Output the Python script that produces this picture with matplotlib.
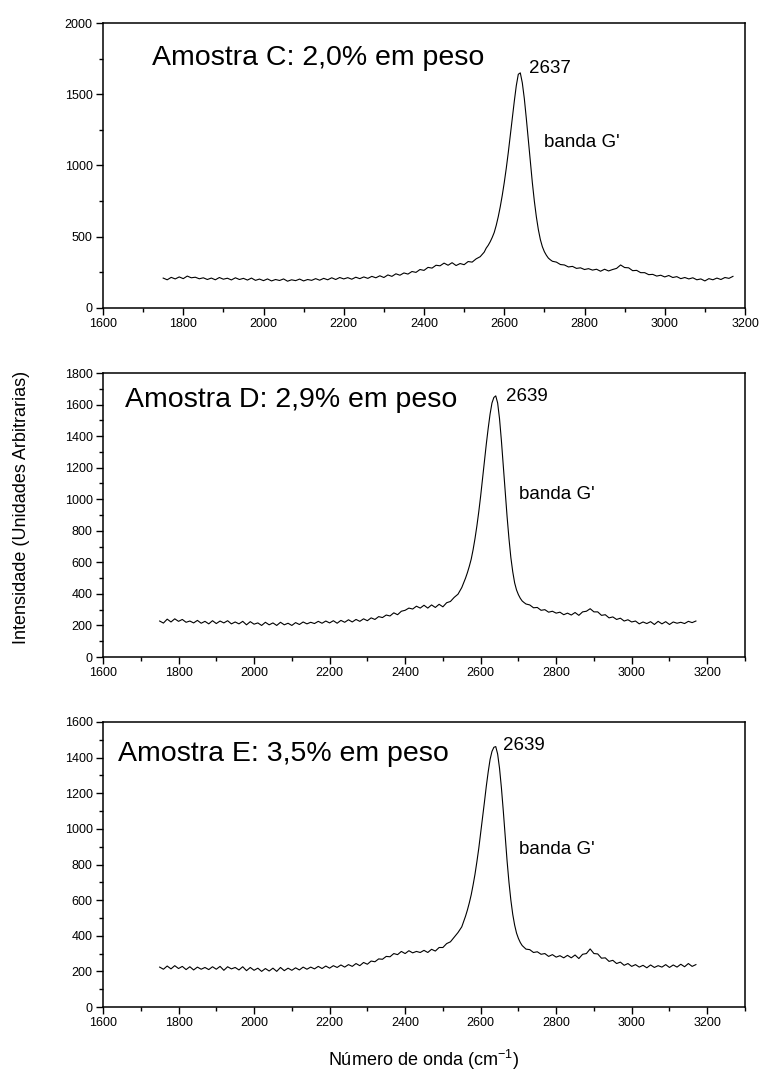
import numpy as np
import matplotlib
matplotlib.use("Agg")
import matplotlib.pyplot as plt
from matplotlib.ticker import MultipleLocator

plt.rcParams['font.family'] = ['Liberation Sans', 'DejaVu Sans']

# wavenumber sampling grid (cm^-1)
wn_left = np.arange(1750, 2551, 10)
wn_peak = np.arange(2555, 2721, 5)
wn_right = np.arange(2730, 3171, 10)
wavenumber = np.concatenate([wn_left, wn_peak, wn_right])

# Amostra C
int_C = [
    210, 198, 215, 204, 218, 206, 224, 212, 216, 205,
    212, 200, 210, 198, 214, 202, 209, 197, 212, 200,
    208, 196, 210, 194, 203, 192, 204, 190, 200, 193,
    204, 188, 198, 192, 203, 190, 200, 194, 206, 195,
    208, 198, 212, 200, 214, 204, 213, 202, 216, 206,
    218, 208, 222, 212, 226, 214, 232, 222, 240, 230,
    246, 238, 256, 250, 270, 264, 285, 280, 300, 296,
    315, 300, 318, 298, 312, 304, 326, 322, 345, 360,
    392,
    420, 440, 465, 495, 530, 580, 640, 710, 790, 880,
    980, 1090, 1210, 1330, 1450, 1560, 1640, 1650, 1580, 1470,
    1330, 1180, 1030, 880, 750, 640, 550, 480, 430, 395,
    370, 350, 338, 328,
    322, 305, 302, 288, 292, 278, 282, 270, 276, 266,
    272, 258, 272, 260, 270, 278, 302, 284, 282, 262,
    264, 248, 248, 234, 236, 224, 230, 218, 228, 214,
    220, 206, 214, 204, 212, 198, 204, 190, 206, 198,
    210, 200, 214, 208, 222,
]

# Amostra D
int_D = [
    228, 215, 240, 222, 242, 226, 238, 220, 228, 216,
    232, 214, 226, 210, 230, 212, 228, 216, 230, 210,
    222, 210, 226, 204, 224, 208, 216, 200, 220, 204,
    216, 200, 220, 204, 214, 200, 218, 206, 222, 210,
    220, 212, 226, 214, 228, 216, 230, 214, 232, 220,
    236, 222, 238, 226, 242, 230, 248, 238, 256, 250,
    266, 260, 280, 268, 290, 296, 310, 304, 322, 310,
    328, 310, 330, 314, 334, 318, 344, 352, 378, 398,
    440,
    470, 500, 535, 575, 620, 680, 750, 830, 920, 1020,
    1130, 1240, 1350, 1450, 1540, 1610, 1645, 1655, 1610, 1510,
    1370, 1210, 1050, 890, 750, 630, 540, 470, 425, 395,
    372, 355, 345, 336,
    330, 312, 314, 296, 300, 284, 290, 278, 284, 268,
    278, 266, 282, 264, 286, 290, 306, 286, 286, 264,
    268, 248, 254, 238, 246, 228, 236, 222, 228, 210,
    222, 212, 224, 206, 226, 210, 224, 206, 222, 214,
    220, 212, 226, 218, 228,
]

# Amostra E
int_E = [
    224, 212, 230, 214, 232, 216, 228, 210, 226, 208,
    224, 212, 222, 210, 226, 212, 228, 206, 226, 214,
    222, 208, 226, 204, 222, 206, 218, 200, 216, 202,
    218, 200, 222, 204, 218, 206, 220, 208, 224, 212,
    224, 214, 228, 216, 230, 218, 232, 222, 236, 224,
    238, 228, 244, 232, 250, 240, 258, 254, 270, 268,
    284, 282, 300, 294, 312, 300, 316, 304, 312, 306,
    318, 306, 324, 314, 334, 334, 356, 366, 392, 418,
    450,
    480, 510, 545, 585, 630, 685, 745, 815, 890, 975,
    1060, 1150, 1240, 1320, 1390, 1435, 1458, 1462, 1420, 1340,
    1230, 1100, 960, 820, 700, 600, 520, 460, 415, 385,
    362, 345, 335, 325,
    322, 306, 310, 296, 300, 284, 294, 280, 288, 276,
    290, 276, 292, 272, 296, 300, 326, 300, 298, 274,
    276, 256, 262, 244, 252, 234, 244, 228, 238, 224,
    234, 220, 236, 222, 232, 224, 238, 222, 236, 224,
    240, 226, 244, 228, 238,
]

titles = ["Amostra C: 2,0% em peso", "Amostra D: 2,9% em peso", "Amostra E: 3,5% em peso"]
peak_labels = ["2637", "2639", "2639"]
band_label = "banda G'"

W, H = 763, 1077
fig = plt.figure(figsize=(W / 100, H / 100), dpi=100)

left = 103 / W
width = 642 / W
panels = [
    dict(top=23, bottom=308, ymax=2000, ymaj=500, ymin=250, xmax=3200,
         data=int_C, title_xy=(1722, 1705), peak_xy=(2662, 1650), band_xy=(2700, 1130)),
    dict(top=373, bottom=657, ymax=1800, ymaj=200, ymin=100, xmax=3300,
         data=int_D, title_xy=(1658, 1585), peak_xy=(2667, 1620), band_xy=(2702, 1000)),
    dict(top=722, bottom=1007, ymax=1600, ymaj=200, ymin=100, xmax=3300,
         data=int_E, title_xy=(1640, 1380), peak_xy=(2659, 1440), band_xy=(2702, 860)),
]

for i, p in enumerate(panels):
    ax = fig.add_axes([left, 1 - p['bottom'] / H, width, (p['bottom'] - p['top']) / H])
    ax.plot(wavenumber, p['data'], color='black', lw=0.8)
    ax.set_xlim(1600, p['xmax'])
    ax.set_ylim(0, p['ymax'])
    ax.xaxis.set_major_locator(MultipleLocator(200))
    ax.xaxis.set_minor_locator(MultipleLocator(100))
    ax.yaxis.set_major_locator(MultipleLocator(p['ymaj']))
    ax.yaxis.set_minor_locator(MultipleLocator(p['ymin']))
    ax.tick_params(which='major', direction='out', length=5, width=1.0, labelsize=9, pad=2.5)
    ax.tick_params(which='minor', direction='out', length=3, width=1.0)
    for s in ax.spines.values():
        s.set_linewidth(1.1)
    ax.text(p['title_xy'][0], p['title_xy'][1], titles[i], fontsize=20.5, va='baseline', ha='left')
    ax.text(p['peak_xy'][0], p['peak_xy'][1], peak_labels[i], fontsize=13.5, va='baseline', ha='left')
    ax.text(p['band_xy'][0], p['band_xy'][1], band_label, fontsize=13.5, va='baseline', ha='left')

fig.text(22 / W, 1 - 507 / H, "Intensidade (Unidades Arbitrarias)", rotation=90,
         fontsize=13, ha='center', va='center')
fig.text(424 / W, 1 - 1060 / H, "Número de onda (cm$^{\\mathregular{-1}}$)", fontsize=13,
         ha='center', va='center')

fig.savefig("out.png", dpi=100)
